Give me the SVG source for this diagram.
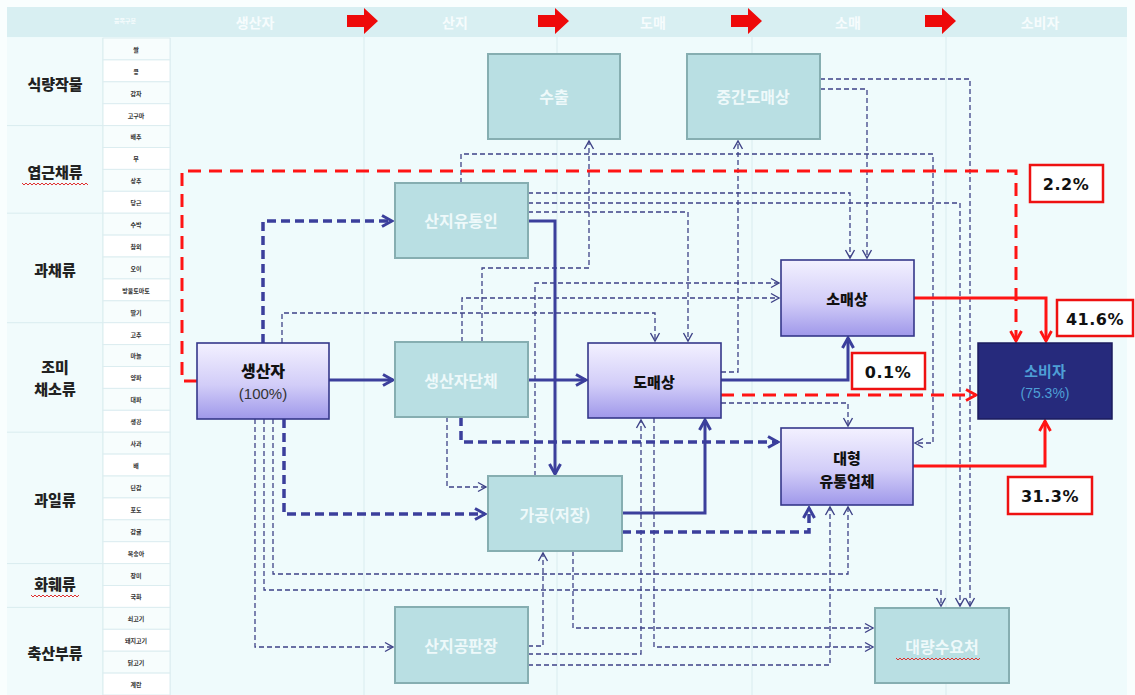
<svg xmlns="http://www.w3.org/2000/svg" width="1135" height="695" viewBox="0 0 1135 695">
<defs>
<linearGradient id="pg" x1="0" y1="0" x2="0" y2="1">
<stop offset="0" stop-color="#f3f1ff"/>
<stop offset="0.55" stop-color="#d2cdf8"/>
<stop offset="1" stop-color="#9f98ea"/>
</linearGradient>
<marker id="a" markerUnits="userSpaceOnUse" markerWidth="12" markerHeight="12" refX="10" refY="6" orient="auto">
<path d="M2,1.5 L10,6 L2,10.5" fill="none" stroke="#3e4287" stroke-width="1.4"/>
</marker>
<marker id="A" markerUnits="userSpaceOnUse" markerWidth="14" markerHeight="14" refX="12" refY="7" orient="auto">
<path d="M2,1.5 L12,7 L2,12.5" fill="none" stroke="#3b3f9c" stroke-width="3"/>
</marker>
<marker id="R" markerUnits="userSpaceOnUse" markerWidth="14" markerHeight="14" refX="12" refY="7" orient="auto">
<path d="M2,1.5 L12,7 L2,12.5" fill="none" stroke="#ff1414" stroke-width="2.8"/>
</marker>
</defs>
<style>
.cat{font-family:"Noto Sans CJK KR",sans-serif;font-weight:900;font-size:15px;fill:#222;text-anchor:middle;dominant-baseline:central}
.item{font-family:"Noto Sans CJK KR",sans-serif;font-weight:bold;font-size:6px;fill:#333;text-anchor:middle;dominant-baseline:central}
.hd{font-family:"Noto Sans CJK KR",sans-serif;font-weight:bold;font-size:14px;fill:#f6fcfd;text-anchor:middle;dominant-baseline:central}
.tn rect{fill:#b9dfe3;stroke:#86aeb1;stroke-width:2}
.tn text{font-family:"Noto Sans CJK KR",sans-serif;font-weight:bold;font-size:16px;fill:#eef9fa;text-anchor:middle;dominant-baseline:central}
.pn rect{fill:url(#pg);stroke:#35378a;stroke-width:1.6}
.pn text{font-family:"Noto Sans CJK KR",sans-serif;font-weight:900;font-size:15px;fill:#111;text-anchor:middle;dominant-baseline:central}
.pct rect{fill:#fff;stroke:#ee1111;stroke-width:2.5}
.pct text{font-family:"DejaVu Sans",sans-serif;font-weight:bold;font-size:16px;letter-spacing:0.5px;fill:#111;text-anchor:middle;dominant-baseline:central}
.td{fill:none;stroke:#3e4287;stroke-width:1.3;stroke-dasharray:5 3;marker-end:url(#a)}
.kd{fill:none;stroke:#3b3f9c;stroke-width:3.5;stroke-dasharray:9 5;marker-end:url(#A)}
.ks{fill:none;stroke:#3b3f9c;stroke-width:3;marker-end:url(#A)}
.rd{fill:none;stroke:#ff1414;stroke-width:3;stroke-dasharray:13 8;marker-end:url(#R)}
.rs{fill:none;stroke:#ff1414;stroke-width:3;marker-end:url(#R)}
.sq{fill:none;stroke:#e03030;stroke-width:1}
.grid{stroke:#d9ecef;stroke-width:1}
</style>
<rect x="0" y="0" width="1135" height="695" fill="#f9fefe"/>
<rect x="7" y="37" width="1120" height="658" fill="#effbfc"/>
<!-- header -->
<g id="header">
<rect x="7" y="7" width="1120" height="30" fill="#d8eff2"/>
<text class="hd" x="125" y="20" style="font-size:6px">품목구분</text>
<text class="hd" x="255" y="22">생산자</text>
<text class="hd" x="455" y="22">산지</text>
<text class="hd" x="653" y="22">도매</text>
<text class="hd" x="848" y="22">소매</text>
<text class="hd" x="1040" y="22">소비자</text>
<path d="M347,15 H364 V8 L378,21 L364,34 V27 H347 Z" fill="#ee0a0a"/>
<path d="M538,15 H555 V8 L569,21 L555,34 V27 H538 Z" fill="#ee0a0a"/>
<path d="M731,15 H748 V8 L762,21 L748,34 V27 H731 Z" fill="#ee0a0a"/>
<path d="M925,15 H942 V8 L956,21 L942,34 V27 H925 Z" fill="#ee0a0a"/>
</g>
<!-- stage dividers -->
<g id="dividers">
<line class="grid" x1="364" y1="37" x2="364" y2="695"/>
<line class="grid" x1="557" y1="37" x2="557" y2="695"/>
<line class="grid" x1="752" y1="37" x2="752" y2="695"/>
<line class="grid" x1="946" y1="37" x2="946" y2="695"/>
</g>
<!-- left table -->
<g id="table">
<rect x="7" y="38" width="96" height="657" fill="#f1fbfc"/>
<line class="grid" x1="7" y1="125.6" x2="103" y2="125.6"/>
<line class="grid" x1="7" y1="213.2" x2="103" y2="213.2"/>
<line class="grid" x1="7" y1="322.7" x2="103" y2="322.7"/>
<line class="grid" x1="7" y1="432.2" x2="103" y2="432.2"/>
<line class="grid" x1="7" y1="563.6" x2="103" y2="563.6"/>
<line class="grid" x1="7" y1="607.4" x2="103" y2="607.4"/>
<line class="grid" x1="103" y1="38" x2="103" y2="695"/>
<line class="grid" x1="170" y1="38" x2="170" y2="695"/>
<g fill="#f7fdfd" stroke="#dcedf0" stroke-width="1">
<rect x="103" y="38" width="67" height="21.9"/>
<rect x="103" y="59.9" width="67" height="21.9" fill="#ffffff"/>
<rect x="103" y="81.8" width="67" height="21.9"/>
<rect x="103" y="103.7" width="67" height="21.9" fill="#ffffff"/>
<rect x="103" y="125.6" width="67" height="21.9"/>
<rect x="103" y="147.5" width="67" height="21.9" fill="#ffffff"/>
<rect x="103" y="169.4" width="67" height="21.9"/>
<rect x="103" y="191.3" width="67" height="21.9" fill="#ffffff"/>
<rect x="103" y="213.2" width="67" height="21.9"/>
<rect x="103" y="235.1" width="67" height="21.9" fill="#ffffff"/>
<rect x="103" y="257" width="67" height="21.9"/>
<rect x="103" y="278.9" width="67" height="21.9" fill="#ffffff"/>
<rect x="103" y="300.8" width="67" height="21.9"/>
<rect x="103" y="322.7" width="67" height="21.9" fill="#ffffff"/>
<rect x="103" y="344.6" width="67" height="21.9"/>
<rect x="103" y="366.5" width="67" height="21.9" fill="#ffffff"/>
<rect x="103" y="388.4" width="67" height="21.9"/>
<rect x="103" y="410.3" width="67" height="21.9" fill="#ffffff"/>
<rect x="103" y="432.2" width="67" height="21.9"/>
<rect x="103" y="454.1" width="67" height="21.9" fill="#ffffff"/>
<rect x="103" y="476" width="67" height="21.9"/>
<rect x="103" y="497.9" width="67" height="21.9" fill="#ffffff"/>
<rect x="103" y="519.8" width="67" height="21.9"/>
<rect x="103" y="541.7" width="67" height="21.9" fill="#ffffff"/>
<rect x="103" y="563.6" width="67" height="21.9"/>
<rect x="103" y="585.5" width="67" height="21.9" fill="#ffffff"/>
<rect x="103" y="607.4" width="67" height="21.9"/>
<rect x="103" y="629.3" width="67" height="21.9" fill="#ffffff"/>
<rect x="103" y="651.2" width="67" height="21.9"/>
<rect x="103" y="673.1" width="67" height="21.9" fill="#ffffff"/>
</g>
<text class="item" x="136" y="49">쌀</text>
<text class="item" x="136" y="71">콩</text>
<text class="item" x="136" y="93">감자</text>
<text class="item" x="136" y="115">고구마</text>
<text class="item" x="136" y="136">배추</text>
<text class="item" x="136" y="158">무</text>
<text class="item" x="136" y="180">상추</text>
<text class="item" x="136" y="202">당근</text>
<text class="item" x="136" y="224">수박</text>
<text class="item" x="136" y="246">참외</text>
<text class="item" x="136" y="268">오이</text>
<text class="item" x="136" y="290">방울토마토</text>
<text class="item" x="136" y="312">딸기</text>
<text class="item" x="136" y="334">고추</text>
<text class="item" x="136" y="355">마늘</text>
<text class="item" x="136" y="377">양파</text>
<text class="item" x="136" y="399">대파</text>
<text class="item" x="136" y="421">생강</text>
<text class="item" x="136" y="443">사과</text>
<text class="item" x="136" y="465">배</text>
<text class="item" x="136" y="487">단감</text>
<text class="item" x="136" y="509">포도</text>
<text class="item" x="136" y="531">감귤</text>
<text class="item" x="136" y="553">복숭아</text>
<text class="item" x="136" y="575">장미</text>
<text class="item" x="136" y="596">국화</text>
<text class="item" x="136" y="618">쇠고기</text>
<text class="item" x="136" y="640">돼지고기</text>
<text class="item" x="136" y="662">닭고기</text>
<text class="item" x="136" y="684">계란</text>
<text class="cat" x="55" y="83">식량작물</text>
<text class="cat" x="55" y="171">엽근채류</text>
<path class="sq" d="M22,183 l2,2 l2,-2 l2,2 l2,-2 l2,2 l2,-2 l2,2 l2,-2 l2,2 l2,-2 l2,2 l2,-2 l2,2 l2,-2 l2,2 l2,-2 l2,2 l2,-2 l2,2 l2,-2 l2,2 l2,-2 l2,2 l2,-2 l2,2 l2,-2 l2,2 l2,-2 l2,2 l2,-2 l2,2 l2,-2 l2,2"/>
<text class="cat" x="55" y="269">과채류</text>
<text class="cat" x="55" y="366">조미</text>
<text class="cat" x="55" y="388">채소류</text>
<text class="cat" x="55" y="499">과일류</text>
<text class="cat" x="55" y="583">화훼류</text>
<path class="sq" d="M31,595 l2,2 l2,-2 l2,2 l2,-2 l2,2 l2,-2 l2,2 l2,-2 l2,2 l2,-2 l2,2 l2,-2 l2,2 l2,-2 l2,2 l2,-2 l2,2 l2,-2 l2,2 l2,-2 l2,2 l2,-2 l2,2 l2,-2"/>
<text class="cat" x="55" y="652">축산부류</text>
</g>
<!-- connectors -->
<g id="connectors">
<path class="td" d="M820,79 H970 V606"/>
<path class="td" d="M820,89 H867 V258"/>
<path class="td" d="M461,183 V154 H933 V443 H915"/>
<path class="td" d="M482,342 V268 H589 V141"/>
<path class="td" d="M528,193 H850 V258"/>
<path class="td" d="M528,203 H960 V606"/>
<path class="td" d="M528,212 H688 V341"/>
<path class="td" d="M721,372 H738 V141"/>
<path class="td" d="M535,476 V283 H779"/>
<path class="td" d="M462,342 V298 H779"/>
<path class="td" d="M282,343 V313 H655 V341"/>
<path class="td" d="M721,403 H848 V426"/>
<path class="td" d="M528,665 H830 V507"/>
<path class="td" d="M273,419 V574 H848 V507"/>
<path class="td" d="M264,419 V590 H941 V606"/>
<path class="td" d="M255,419 V647 H393"/>
<path class="td" d="M573,551 V628 H873"/>
<path class="td" d="M654,418 V647 H873"/>
<path class="td" d="M528,654 H641 V420"/>
<path class="td" d="M528,646 H543 V553"/>
<path class="td" d="M447,417 V487 H486"/>
<path class="kd" d="M263,343 V221 H392"/>
<path class="kd" d="M284,419 V514 H485"/>
<path class="kd" d="M461,417 V442 H778"/>
<path class="kd" d="M622,532 H809 V508"/>
<path class="ks" d="M329,380 H393"/>
<path class="ks" d="M528,380 H586"/>
<path class="ks" d="M528,221 H555 V474"/>
<path class="ks" d="M721,380 H848 V338"/>
<path class="ks" d="M622,513 H705 V420"/>
<path class="rd" d="M197,381 H182 V171 H1016 V341"/>
<path class="rs" d="M914,298 H1046 V341"/>
<path class="rd" d="M721,395 H976"/>
<path class="rs" d="M913,466 H1045 V421"/>
</g>
<!-- nodes -->
<g id="n-export" class="tn"><rect x="488" y="54" width="132" height="85"/><text x="554" y="96">수출</text></g>
<g id="n-midwholesale" class="tn"><rect x="687" y="54" width="133" height="85"/><text x="753" y="96">중간도매상</text></g>
<g id="n-collector" class="tn"><rect x="395" y="183" width="133" height="75"/><text x="461" y="220">산지유통인</text></g>
<g id="n-producer" class="pn"><rect x="197" y="343" width="132" height="76"/><text x="263" y="370" style="font-size:16px">생산자</text><text x="263" y="393" style="font-weight:normal;font-family:'Liberation Sans',sans-serif;font-size:15px;fill:#333">(100%)</text></g>
<g id="n-producergroup" class="tn"><rect x="395" y="342" width="133" height="75"/><text x="461" y="380">생산자단체</text></g>
<g id="n-wholesaler" class="pn"><rect x="588" y="343" width="133" height="75"/><text x="654" y="381">도매상</text></g>
<g id="n-retailer" class="pn"><rect x="781" y="260" width="133" height="76"/><text x="847" y="298">소매상</text></g>
<g id="n-consumer"><rect x="978" y="343" width="134" height="76" fill="#262a7c" stroke="#1b1d5e" stroke-width="1.5"/><text x="1045" y="370" font-family="'Noto Sans CJK KR',sans-serif" font-weight="bold" font-size="15" fill="#4e9fd6" text-anchor="middle" dominant-baseline="central">소비자</text><text x="1045" y="393" font-family="'Liberation Sans',sans-serif" font-size="14" fill="#4e9fd6" text-anchor="middle" dominant-baseline="central">(75.3%)</text></g>
<g id="n-largeretail" class="pn"><rect x="781" y="428" width="132" height="77"/><text x="847" y="457">대형</text><text x="847" y="480">유통업체</text></g>
<g id="n-processing" class="tn"><rect x="488" y="476" width="134" height="75"/><text x="555" y="514">가공(저장)</text></g>
<g id="n-market" class="tn"><rect x="395" y="607" width="133" height="76"/><text x="461" y="645">산지공판장</text></g>
<g id="n-bulk" class="tn"><rect x="875" y="608" width="134" height="75"/><text x="942" y="646">대량수요처</text><path class="sq" d="M896,658 l2,2 l2,-2 l2,2 l2,-2 l2,2 l2,-2 l2,2 l2,-2 l2,2 l2,-2 l2,2 l2,-2 l2,2 l2,-2 l2,2 l2,-2 l2,2 l2,-2 l2,2 l2,-2 l2,2 l2,-2 l2,2 l2,-2 l2,2 l2,-2 l2,2 l2,-2 l2,2 l2,-2 l2,2 l2,-2 l2,2 l2,-2 l2,2 l2,-2 l2,2 l2,-2 l2,2 l2,-2 l2,2 l2,-2"/></g>
<!-- percentages -->
<g id="p22" class="pct"><rect x="1030" y="165" width="73" height="37"/><text x="1066" y="184">2.2%</text></g>
<g id="p416" class="pct"><rect x="1057" y="300" width="76" height="36"/><text x="1095" y="319">41.6%</text></g>
<g id="p01" class="pct"><rect x="852" y="353" width="73" height="36"/><text x="888" y="372">0.1%</text></g>
<g id="p313" class="pct"><rect x="1008" y="477" width="84" height="37"/><text x="1050" y="496">31.3%</text></g>
</svg>
